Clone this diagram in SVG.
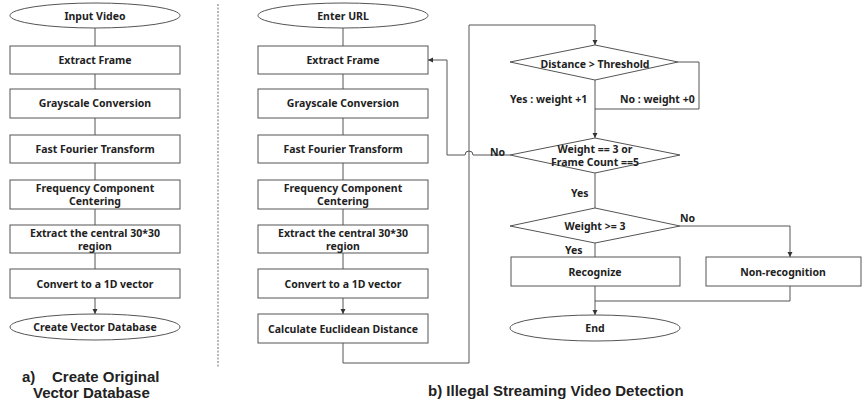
<svg xmlns="http://www.w3.org/2000/svg" width="864" height="402" viewBox="0 0 864 402">
<defs>
<marker id="ah" markerWidth="6" markerHeight="6" refX="5" refY="3" orient="auto" markerUnits="userSpaceOnUse"><path d="M0,0.5 L5,3 L0,5.5 z" fill="#333"/></marker>
<style>
.box{fill:#fff;stroke:#555;stroke-width:1}
.t{font-family:"Noto Sans","Liberation Sans",sans-serif;font-weight:bold;font-size:10.5px;fill:#222;text-anchor:middle}
.l{font-family:"Noto Sans","Liberation Sans",sans-serif;font-weight:bold;font-size:10.5px;fill:#222}
.cap{font-family:"Liberation Sans","Noto Sans",sans-serif;font-weight:bold;font-size:15px;fill:#222}
.c{fill:none;stroke:#555;stroke-width:1}
</style>
</defs>
<rect width="864" height="402" fill="#fff"/>
<line x1="218" y1="4" x2="218" y2="367" stroke="#888" stroke-width="1.2" stroke-dasharray="2,1.5"/>
<g id="connectors">
<path class="c" d="M95,28 V46 M95,74 V89 M95,118 V135 M95,163 V180 M95,209 V225 M95,253 V269"/>
<path class="c" d="M95,298 V314" marker-end="url(#ah)"/>
<path class="c" d="M343,28 V46 M343,74 V89 M343,118 V135 M343,163 V180 M343,209 V225 M343,253 V269"/>
<path class="c" d="M343,298 V314" marker-end="url(#ah)"/>
<path class="c" d="M343,343 V363 H469 V25 H595 V45" marker-end="url(#ah)"/>
<path class="c" d="M678,62 H699 V109 H595"/>
<path class="c" d="M595,80 V138" marker-end="url(#ah)"/>
<path class="c" d="M510,155 H473 A4,4 0 0 0 465,155 H447 V60 H428" marker-end="url(#ah)"/>
<path class="c" d="M595,173 V208"/>
<path class="c" d="M680,226 H790 V257" marker-end="url(#ah)"/>
<path class="c" d="M595,243 V257"/>
<path class="c" d="M790,286 V301 H595"/>
<path class="c" d="M595,286 V315" marker-end="url(#ah)"/>
</g>
<g id="a_input"><rect class="box" x="10" y="3" width="170" height="25" rx="85" ry="12.5"/><text class="t" x="95" y="20">Input Video</text></g>
<g id="a_extract"><rect class="box" x="10" y="46" width="170" height="28"/><text class="t" x="95" y="64">Extract Frame</text></g>
<g id="a_gray"><rect class="box" x="10" y="89" width="170" height="29"/><text class="t" x="95" y="107">Grayscale Conversion</text></g>
<g id="a_fft"><rect class="box" x="10" y="135" width="170" height="28"/><text class="t" x="95" y="153">Fast Fourier Transform</text></g>
<g id="a_freq"><rect class="box" x="10" y="180" width="170" height="29"/><text class="t" x="95" y="192">Frequency Component</text><text class="t" x="95" y="205">Centering</text></g>
<g id="a_central"><rect class="box" x="10" y="225" width="170" height="28"/><text class="t" x="95" y="237">Extract the central 30*30</text><text class="t" x="95" y="250">region</text></g>
<g id="a_vec"><rect class="box" x="10" y="269" width="170" height="29"/><text class="t" x="95" y="288">Convert to a 1D vector</text></g>
<g id="a_db"><rect class="box" x="10" y="314" width="170" height="26" rx="85" ry="13"/><text class="t" x="95" y="331">Create Vector Database</text></g>
<g id="b_url"><rect class="box" x="258" y="3" width="170" height="25" rx="85" ry="12.5"/><text class="t" x="343" y="20">Enter URL</text></g>
<g id="b_extract"><rect class="box" x="258" y="46" width="170" height="28"/><text class="t" x="343" y="64">Extract Frame</text></g>
<g id="b_gray"><rect class="box" x="258" y="89" width="170" height="29"/><text class="t" x="343" y="107">Grayscale Conversion</text></g>
<g id="b_fft"><rect class="box" x="258" y="135" width="170" height="28"/><text class="t" x="343" y="153">Fast Fourier Transform</text></g>
<g id="b_freq"><rect class="box" x="258" y="180" width="170" height="29"/><text class="t" x="343" y="192">Frequency Component</text><text class="t" x="343" y="205">Centering</text></g>
<g id="b_central"><rect class="box" x="258" y="225" width="170" height="28"/><text class="t" x="343" y="237">Extract the central 30*30</text><text class="t" x="343" y="250">region</text></g>
<g id="b_vec"><rect class="box" x="258" y="269" width="170" height="29"/><text class="t" x="343" y="288">Convert to a 1D vector</text></g>
<g id="b_dist"><rect class="box" x="258" y="314" width="170" height="29"/><text class="t" x="343" y="333">Calculate Euclidean Distance</text></g>
<g id="d_thresh"><polygon class="box" points="510,62 595,45 678,62 595,80"/><text class="t" x="595" y="68">Distance &gt; Threshold</text></g>
<g id="d_weight"><polygon class="box" points="510,155 595,138 680,155 595,173"/><text class="t" x="595" y="153">Weight == 3 or</text><text class="t" x="595" y="166">Frame Count ==5</text></g>
<g id="d_w3"><polygon class="box" points="510,226 595,208 680,226 595,243"/><text class="t" x="595" y="230">Weight &gt;= 3</text></g>
<g id="r_rec"><rect class="box" x="511" y="257" width="169" height="29"/><text class="t" x="595" y="276">Recognize</text></g>
<g id="r_non"><rect class="box" x="706" y="257" width="155" height="29"/><text class="t" x="783" y="276">Non-recognition</text></g>
<g id="r_end"><rect class="box" x="510" y="315" width="170" height="26" rx="85" ry="13"/><text class="t" x="595" y="332">End</text></g>
<g id="labels">
<text class="l" x="510" y="103">Yes : weight +1</text>
<text class="l" x="620" y="103">No : weight +0</text>
<text class="l" x="490" y="156">No</text>
<text class="l" x="571" y="197">Yes</text>
<text class="l" x="680" y="222">No</text>
<text class="l" x="565" y="254">Yes</text>
<text class="cap" y="382"><tspan x="22">a)</tspan><tspan x="52">Create Original</tspan></text>
<text class="cap" x="33" y="398">Vector Database</text>
<text class="cap" x="428" y="396">b) Illegal Streaming Video Detection</text>
</g>
</svg>
